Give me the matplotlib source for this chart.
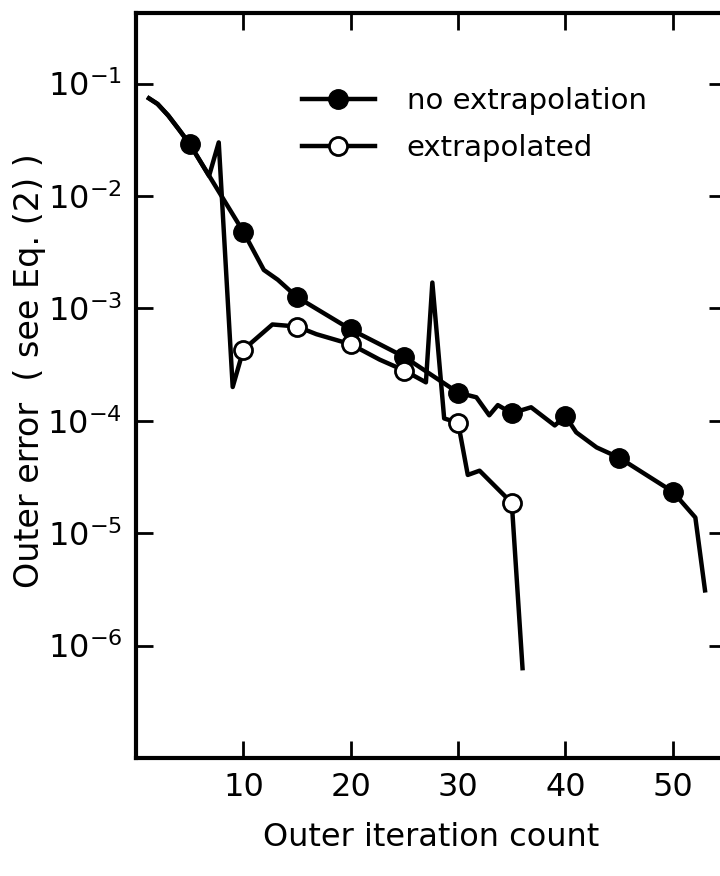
import numpy as np
import matplotlib
matplotlib.use("Agg")
import matplotlib.pyplot as plt

# no extrapolation (filled circles every 5 iterations)
it_plain = [1.2, 2.0, 3.0, 4.0, 5, 10, 11.9, 13.2, 15, 20, 22.7, 25, 30, 31.7, 32.9,
            33.7, 35, 36.8, 39.0, 40, 41, 42.9, 45, 50, 52.1, 53.0]
err_plain = [0.074, 0.066, 0.052, 0.039, 0.029, 0.0048, 0.0022, 0.0018, 0.00126,
             0.00065, 0.00048, 0.00037, 0.000178, 0.000162, 0.000112, 0.000138,
             0.000117, 0.000132, 0.000091, 0.00011, 0.000079, 0.000058, 0.000047,
             0.0000234, 0.0000138, 0.0000031]
marks_plain = [5, 10, 15, 20, 25, 30, 35, 40, 45, 50]

# extrapolated (open circles)
it_extr = [1.2, 2.0, 3.0, 4.0, 5, 6.8, 7.7, 9.0, 10, 12.7, 15, 16.8, 20, 22.7, 25,
           27.0, 27.6, 28.7, 30, 30.9, 32.0, 35, 36.0]
err_extr = [0.074, 0.066, 0.052, 0.039, 0.029, 0.0151, 0.030, 0.0002, 0.00043,
            0.00072, 0.00069, 0.00059, 0.00048, 0.00035, 0.00028, 0.00022, 0.0017,
            0.000105, 0.000096, 0.000033, 0.000036, 0.0000186, 0.00000063]
marks_extr = [10, 15, 20, 25, 30, 35]

xticks = [10, 20, 30, 40, 50]
ydecades = [-6, -5, -4, -3, -2, -1]

plt.rcParams['font.family'] = ['DejaVu Sans']

fig = plt.figure(figsize=(7.2, 8.76), dpi=100)
ax = fig.add_axes([0.189, 0.1347, 0.82, 0.85])

ax.plot(it_plain, err_plain, '-', color='black', lw=3.2, marker='o', ms=14,
        mfc='black', mec='black',
        markevery=[i for i, x in enumerate(it_plain) if x in marks_plain],
        label="no extrapolation", zorder=3)
ax.plot(it_extr, err_extr, '-', color='black', lw=3.2, marker='o', ms=13,
        mfc='white', mec='black', mew=2,
        markevery=[i for i, x in enumerate(it_extr) if x in marks_extr],
        label="extrapolated", zorder=4)

ax.set_yscale('log')
ax.set_xlim(0, 55)
ax.set_ylim(1e-7, 10 ** -0.375)
ax.set_xticks(xticks)
ax.set_xticklabels([str(t) for t in xticks])
ax.set_yticks([10.0 ** d for d in ydecades])
ax.set_yticklabels([r"$10^{%d}$" % d for d in ydecades])
ax.minorticks_off()
ax.tick_params(direction='in', length=12, width=2, labelsize=23,
               top=True, right=True, pad=10)

for s in ax.spines.values():
    s.set_linewidth(3)

ax.set_xlabel("Outer iteration count", fontsize=23, labelpad=14)
ax.set_ylabel("Outer error  ( see Eq. (2) )", fontsize=24)
ax.yaxis.set_label_coords(-0.152, 0.52)

leg = ax.legend(loc='upper left', bbox_to_anchor=(0.236, 0.936), frameon=False,
                fontsize=21, handlelength=2.5, labelspacing=0.65, handletextpad=1.1)

fig.savefig("out.png", dpi=100)
